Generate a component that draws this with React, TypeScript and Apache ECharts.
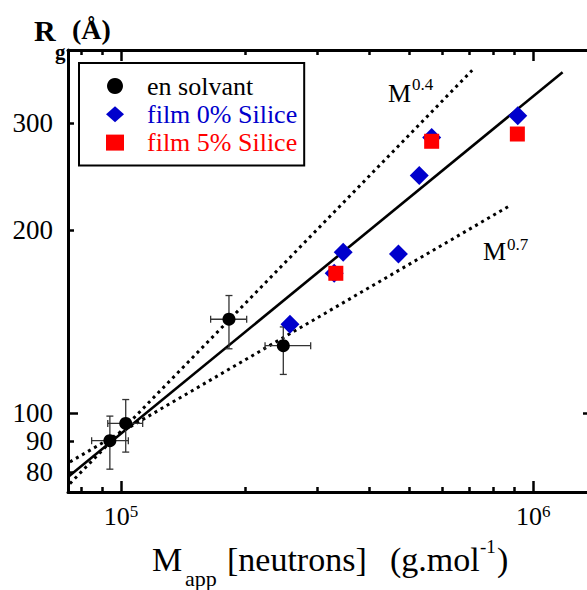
import React, { useEffect, useRef } from 'react';
import * as echarts from 'echarts';

const FONT = 'Liberation Serif, Times New Roman, serif';

// axis ranges and ticks
const X_MIN = 7.44e4;
const X_MAX = 1.396e6;
const Y_MIN = 74.3;
const Y_MAX = 395.3;
const xMajorTicks = [1e5, 1e6];
const xMinorTicks = [8e4, 9e4, 2e5, 3e5, 4e5, 5e5, 6e5, 7e5, 8e5, 9e5];
const yLabelTicks = [80, 90, 100, 200, 300];
const yMajorTicks = [100];
const yMinorTicks = [80, 90, 200, 300];

// "en solvant" with error bars
const solventM = [9.4e4, 1.027e5, 1.828e5, 2.476e5];
const solventRg = [90.2, 96.3, 142.8, 129.2];
const solventMLow = [8.49e4, 9.29e4, 1.65e5, 2.236e5];
const solventMHigh = [1.042e5, 1.129e5, 2.018e5, 2.885e5];
const solventRgLow = [81.0, 86.4, 127.7, 115.9];
const solventRgHigh = [99.0, 105.4, 156.2, 138.7];

// films
const film0M = [2.57e5, 3.29e5, 3.46e5, 4.71e5, 5.29e5, 5.67e5, 9.17e5];
const film0Rg = [140.1, 169.9, 184.0, 182.8, 246.0, 284.0, 308.4];
const film5M = [3.32e5, 5.67e5, 9.15e5];
const film5Rg = [169.9, 279.9, 287.7];

// lines
const fitM = [7.44e4, 1.178e6];
const fitRg = [78.65, 363.5];
const m04M = [7.52e4, 7.11e5];
const m04Rg = [76.7, 366.2];
const m07M = [7.52e4, 8.7e5];
const m07Rg = [83.25, 218.7];

const zip = (a: number[], b: number[]) => a.map((v, i) => [v, b[i]]);

export default function App() {
  const ref = useRef<HTMLDivElement>(null);
  useEffect(() => {
    if (!ref.current) return;
    const chart = echarts.init(ref.current, null, { renderer: 'svg' });
    const black = '#000';
    const axisLineStyle = { color: black, width: 3 };
    const tickLine = { color: black, width: 2.5 };
    const xBase: any = {
      type: 'log',
      min: X_MIN,
      max: X_MAX,
      splitLine: { show: false },
      minorTick: { show: false },
    };
    const yBase: any = {
      type: 'log',
      min: Y_MIN,
      max: Y_MAX,
      splitLine: { show: false },
      minorTick: { show: false },
    };
    const errData = solventM.map((m, i) => [
      m,
      solventRg[i],
      solventMLow[i],
      solventMHigh[i],
      solventRgLow[i],
      solventRgHigh[i],
    ]);
    const txt = (text: string, x: number, y: number, size: number, extra: any = {}) => ({
      type: 'text',
      x,
      y,
      silent: true,
      style: {
        text,
        fontSize: size,
        fontFamily: FONT,
        fill: '#000',
        align: 'left',
        verticalAlign: 'middle',
        ...extra,
      },
    });
    const legendText = (color: string) => ({
      color,
      fontFamily: FONT,
      fontSize: 26,
      lineHeight: 28,
      padding: [0, 0, 0, 18],
    });
    const option: any = {
      animation: false,
      backgroundColor: '#fff',
      textStyle: { fontFamily: FONT },
      grid: { left: 68, top: 50, width: 525, height: 442, outerBoundsMode: 'none', containLabel: false },
      legend: {
        left: 79,
        top: 63,
        orient: 'vertical',
        selectedMode: false,
        borderColor: black,
        borderWidth: 2,
        padding: [9, 7, 9, 27],
        itemWidth: 18,
        itemHeight: 16,
        itemGap: 0.3,
        textStyle: legendText('#000'),
        data: [
          { name: 'en solvant', icon: 'circle', textStyle: legendText('#000') },
          { name: 'film 0% Silice', icon: 'diamond', textStyle: legendText('#0000cc') },
          { name: 'film 5% Silice', icon: 'rect', textStyle: legendText('#ff0000') },
        ],
      },
      xAxis: [
        {
          ...xBase,
          position: 'bottom',
          axisLine: { show: true, onZero: false, lineStyle: axisLineStyle },
          axisTick: { show: true, inside: true, length: 5, customValues: xMinorTicks, lineStyle: tickLine },
          axisLabel: {
            show: true,
            customValues: xMajorTicks,
            margin: 11,
            fontFamily: FONT,
            formatter: (v: number) => `{b|10}{s|${Math.round(Math.log10(v))}}`,
            rich: {
              b: { fontFamily: FONT, fontSize: 26, lineHeight: 26, padding: [5, 0, 0, 0], color: '#000', verticalAlign: 'bottom' },
              s: { fontFamily: FONT, fontSize: 17, lineHeight: 17, color: '#000', verticalAlign: 'top' },
            },
          },
        },
        {
          ...xBase,
          position: 'bottom',
          axisLine: { show: false, onZero: false },
          axisTick: { show: true, inside: true, length: 11, customValues: xMajorTicks, lineStyle: tickLine },
          axisLabel: { show: false },
        },
        {
          ...xBase,
          position: 'top',
          axisLine: { show: true, onZero: false, lineStyle: axisLineStyle },
          axisTick: { show: true, inside: true, length: 5, customValues: xMinorTicks, lineStyle: tickLine },
          axisLabel: { show: false },
        },
        {
          ...xBase,
          position: 'top',
          axisLine: { show: false, onZero: false },
          axisTick: { show: true, inside: true, length: 11, customValues: xMajorTicks, lineStyle: tickLine },
          axisLabel: { show: false },
        },
      ],
      yAxis: [
        {
          ...yBase,
          position: 'left',
          axisLine: { show: true, onZero: false, lineStyle: axisLineStyle },
          axisTick: { show: true, inside: true, length: 6, customValues: yMinorTicks, lineStyle: tickLine },
          axisLabel: {
            show: true,
            customValues: yLabelTicks,
            margin: 15,
            fontFamily: FONT,
            fontSize: 27,
            color: '#000',
            formatter: (v: number) => String(Math.round(v)),
          },
        },
        {
          ...yBase,
          position: 'left',
          axisLine: { show: false, onZero: false },
          axisTick: { show: true, inside: true, length: 10, customValues: yMajorTicks, lineStyle: tickLine },
          axisLabel: { show: false },
        },
        {
          ...yBase,
          position: 'right',
          axisLine: { show: true, onZero: false, lineStyle: axisLineStyle },
          axisTick: { show: true, inside: true, length: 10, customValues: yMajorTicks, lineStyle: tickLine },
          axisLabel: { show: false },
        },
      ],
      series: [
        {
          name: 'fit',
          type: 'line',
          data: zip(fitM, fitRg),
          symbol: 'none',
          z: 1,
          lineStyle: { color: black, width: 2.6 },
        },
        {
          name: 'M0.4',
          type: 'line',
          data: zip(m04M, m04Rg),
          symbol: 'none',
          z: 1,
          lineStyle: { color: black, width: 3, type: [3, 4], cap: 'butt' },
        },
        {
          name: 'M0.7',
          type: 'line',
          data: zip(m07M, m07Rg),
          symbol: 'none',
          z: 1,
          lineStyle: { color: black, width: 3, type: [3, 4], cap: 'butt' },
        },
        {
          name: 'erreurs',
          type: 'custom',
          z: 2,
          data: errData,
          encode: { x: 0, y: 1 },
          renderItem: (params: any, api: any) => {
            const x = api.value(0);
            const y = api.value(1);
            const l = api.coord([api.value(2), y]);
            const r = api.coord([api.value(3), y]);
            const b = api.coord([x, api.value(4)]);
            const t = api.coord([x, api.value(5)]);
            const st = { stroke: '#333', lineWidth: 1.3 };
            const ln = (x1: number, y1: number, x2: number, y2: number) => ({
              type: 'line',
              shape: { x1, y1, x2, y2 },
              style: st,
            });
            return {
              type: 'group',
              children: [
                ln(l[0], l[1], r[0], r[1]),
                ln(l[0], l[1] - 3.5, l[0], l[1] + 3.5),
                ln(r[0], r[1] - 3.5, r[0], r[1] + 3.5),
                ln(t[0], t[1], b[0], b[1]),
                ln(t[0] - 3.5, t[1], t[0] + 3.5, t[1]),
                ln(b[0] - 3.5, b[1], b[0] + 3.5, b[1]),
              ],
            };
          },
        },
        {
          name: 'en solvant',
          type: 'scatter',
          z: 3,
          symbol: 'circle',
          symbolSize: 13,
          itemStyle: { color: '#000', opacity: 1 },
          data: zip(solventM, solventRg),
        },
        {
          name: 'film 0% Silice',
          type: 'scatter',
          z: 3,
          symbol: 'diamond',
          symbolSize: 19,
          itemStyle: { color: '#0000cc', opacity: 1 },
          data: zip(film0M, film0Rg),
        },
        {
          name: 'film 5% Silice',
          type: 'scatter',
          z: 4,
          symbol: 'rect',
          symbolSize: 15,
          itemStyle: { color: '#ff0000', opacity: 1 },
          data: zip(film5M, film5Rg),
        },
      ],
      graphic: [
        txt('R', 34, 30, 30, { fontWeight: 'bold' }),
        txt('g', 55, 52, 21, { fontWeight: 'bold' }),
        txt('(Å)', 72, 29, 28, { fontWeight: 'bold' }),
        txt('M', 388, 93, 26),
        txt('0.4', 412, 84, 17),
        txt('M', 483, 251, 26),
        txt('0.7', 507, 244, 17),
        txt('M', 152, 559.5, 34),
        txt('app', 185, 578.5, 22),
        txt('[neutrons]', 227, 559.5, 34),
        txt('(g.mol', 390, 559.5, 34),
        txt('-1', 480, 546.5, 19),
        txt(')', 497, 559.5, 34),
      ],
    };
    chart.setOption(option);
    return () => chart.dispose();
  }, []);
  return (
    <div
      ref={ref}
      style={{ position: 'absolute', left: 0, top: 0, width: 587, height: 590, background: '#fff' }}
    />
  );
}
